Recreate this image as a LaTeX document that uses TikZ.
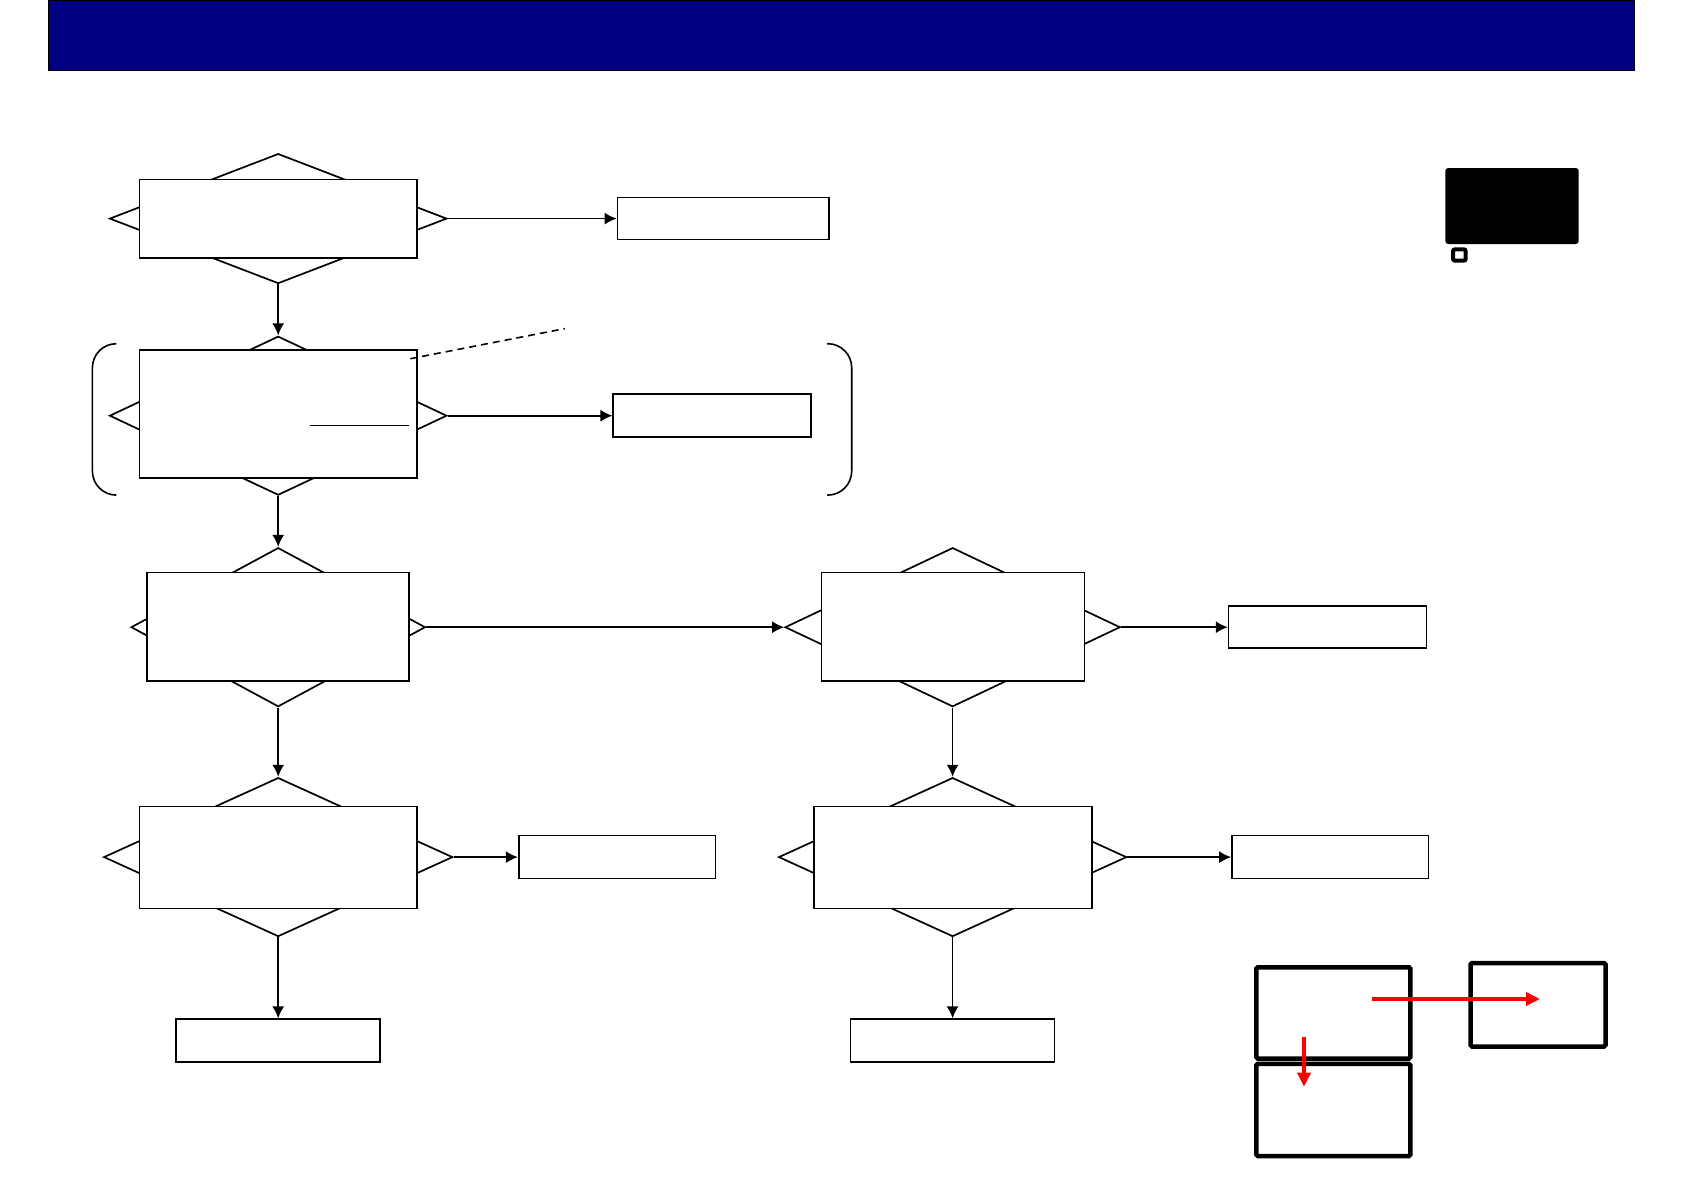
\documentclass[tikz,border=0pt]{standalone}
\usetikzlibrary{shapes.geometric,arrows.meta}
\definecolor{headnavy}{RGB}{0,0,128}
\begin{document}
\begin{tikzpicture}[x=1pt,y=-1pt,
  dia/.style={draw=black,shape=diamond,inner sep=0pt,line width=1.7pt,fill=white},
  rbox/.style={draw=black,rectangle,inner sep=0pt,line width=1.6pt,fill=white},
  conn/.style={line width=1.7pt,-{Latex[length=12pt,width=12pt]}},
  iconbox/.style={draw=black,line width=4.5pt,rounded corners=1.5pt},
  redarrow/.style={red,line width=3.5pt,-{Triangle[length=14pt,width=13pt]}}
]
\useasboundingbox (0,0) rectangle (1684,1191);
% header
\draw[fill=headnavy,draw=black,line width=1pt] (48.3,0.5) rectangle (1634.6,70.9);
% black badge
\fill[black,rounded corners=3pt] (1445.3,168) rectangle (1578.7,244);
\draw[black,line width=4pt,rounded corners=2pt,fill=white] (1453,249.3) rectangle (1465.7,260.7);

% diamonds
\node[dia,minimum width=337.3pt,minimum height=129.9pt] (d1) at (278.2,218.6) {};
\node[dia,minimum width=337.3pt,minimum height=158.9pt] (d2) at (278.2,415.7) {};
\node[dia,minimum width=294.3pt,minimum height=159pt] (d3) at (278.2,627.2) {};
\node[dia,minimum width=335.1pt,minimum height=159pt] (d4) at (952.6,627.2) {};
\node[dia,minimum width=349pt,minimum height=158.9pt] (d5) at (278.2,857.1) {};
\node[dia,minimum width=348pt,minimum height=158.9pt] (d6) at (952.6,857.1) {};

% rectangles on top of diamonds
\node[rbox,minimum width=277.1pt,minimum height=78.4pt] (r1) at (278.2,218.6) {};
\node[rbox,minimum width=277.1pt,minimum height=127.8pt] (r2) at (278.2,414) {};
\node[rbox,minimum width=262.1pt,minimum height=108.5pt] (r3) at (278.2,626.7) {};
\node[rbox,minimum width=263.1pt,minimum height=108.5pt] (r4) at (953.1,626.7) {};
\node[rbox,minimum width=277.1pt,minimum height=102pt] (r5) at (278.2,857.6) {};
\node[rbox,minimum width=278.1pt,minimum height=102pt] (r6) at (953.1,857.6) {};

% result boxes
\node[rbox,minimum width=211.6pt,minimum height=41.9pt] (b1) at (723.3,218.6) {};
\node[rbox,minimum width=197.7pt,minimum height=42.9pt] (b2) at (712.1,415.7) {};
\node[rbox,minimum width=197.7pt,minimum height=41.9pt] (b3) at (1327.5,627.2) {};
\node[rbox,minimum width=196.6pt,minimum height=42.9pt] (b4) at (617,857.1) {};
\node[rbox,minimum width=204.1pt,minimum height=43pt] (b5) at (278.2,1040.7) {};
\node[rbox,minimum width=196.5pt,minimum height=42.9pt] (b6) at (1330.2,857.1) {};
\node[rbox,minimum width=204pt,minimum height=43pt] (b7) at (952.6,1040.7) {};

% connectors
\draw[conn] (d1.east) -- (b1.west);
\draw[conn] (d1.south) -- (d2.north);
\draw[conn] (d2.east) -- (b2.west);
\draw[conn] (d2.south) -- (d3.north);
\draw[conn] (d3.east) -- (d4.west);
\draw[conn] (d4.east) -- (b3.west);
\draw[conn] (d3.south) -- (d5.north);
\draw[conn] (d5.east) -- (b4.west);
\draw[conn] (d5.south) -- (b5.north);
\draw[conn] (d4.south) -- (d6.north);
\draw[conn] (d6.east) -- (b6.west);
\draw[conn] (d6.south) -- (b7.north);

% dashed pointer and underline
\coordinate (dashA) at (410.3,358.7);
\coordinate (dashB) at (564.9,328.6);
\draw[line width=1.6pt,dash pattern=on 7pt off 5pt] (dashA) -- (dashB);
\coordinate (ulA) at (310.4,425.3);
\coordinate (ulB) at (409.2,425.3);
\draw[line width=1.4pt] (ulA) -- (ulB);

% brackets
\draw[line width=1.6pt,rounded corners=24pt] (116,343.7) -- (92.4,343.7) -- (92.4,495.1) -- (116,495.1);
\draw[line width=1.6pt,rounded corners=24pt] (827,343.7) -- (851.7,343.7) -- (851.7,495.1) -- (827,495.1);

% icon bottom right
\draw[iconbox] (1256.25,967.25) rectangle (1410.45,1058.5);
\draw[iconbox] (1256.25,1063.9) rectangle (1410.45,1156);
\draw[iconbox] (1470.5,963) rectangle (1605.5,1046.5);
\draw[redarrow] (1372.3,999) -- (1540,999);
\draw[redarrow] (1304,1036.7) -- (1304,1086.7);
\end{tikzpicture}
\end{document}
